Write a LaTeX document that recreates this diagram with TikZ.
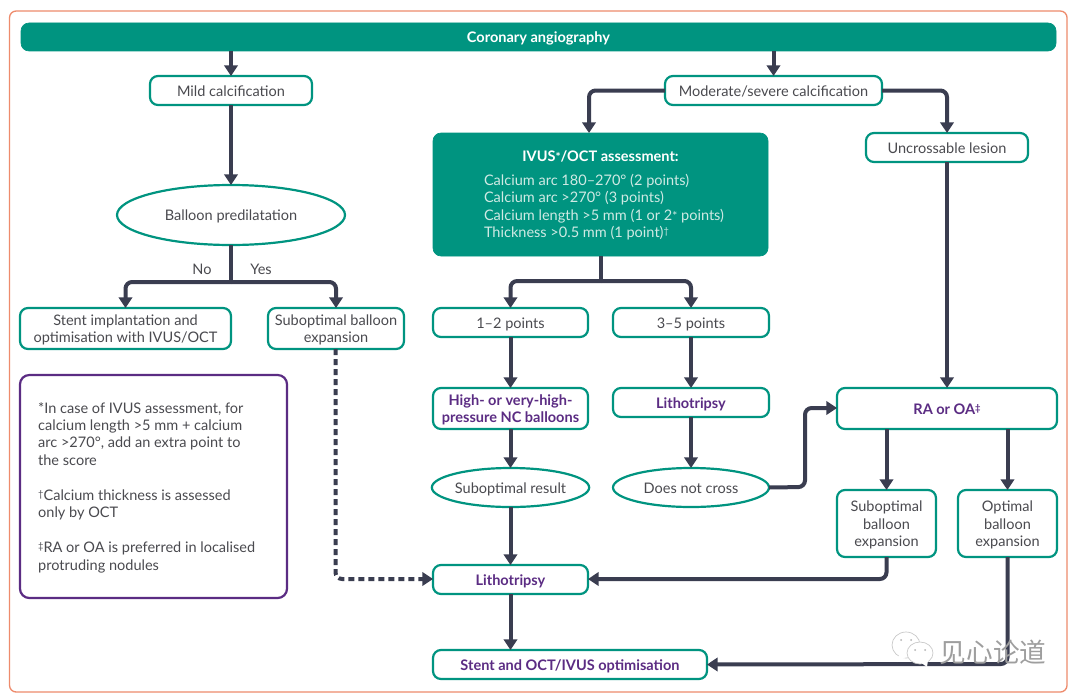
\documentclass[tikz,border=0pt]{standalone}
\usepackage{fontspec}
\setmainfont{Lato}
\newfontfamily\cjkwm{Noto Sans CJK SC}
\usetikzlibrary{arrows.meta,shapes.geometric}
\definecolor{teal}{HTML}{009480}
\definecolor{arrowc}{HTML}{3A3D50}
\definecolor{purp}{HTML}{5B2C83}
\definecolor{txt}{HTML}{4A4A4F}
\definecolor{outer}{HTML}{EE8B6C}
\definecolor{lines}{HTML}{CFEAE4}
\newcommand{\bx}[7]{\node[#6,minimum width={(#3-#1)*0.75pt},minimum height={(#4-#2)*0.75pt}] (#5) at ({(#1+#3)/2},{(#2+#4)/2}) {\raisebox{0pt}[\dimexpr\height+3.4pt\relax][\depth]{\begin{tabular}{@{}c@{}}#7\end{tabular}}};}
\newcommand{\bxn}[7]{\node[#6,minimum width={(#3-#1)*0.75pt},minimum height={(#4-#2)*0.75pt}] (#5) at ({(#1+#3)/2},{(#2+#4)/2}) {#7};}
\newcommand{\supr}[1]{\raisebox{0.42ex}{\fontsize{7}{7}\selectfont #1}}
\newcommand{\smast}{{\fontsize{9}{9}\selectfont *}}
\tikzset{
  base/.style={inner sep=0pt,outer sep=0pt,text=txt,font=\fontsize{10.9}{13.1}\selectfont},
  tbox/.style={base,rectangle,draw=teal,line width=1.65pt,rounded corners=6pt,fill=white},
  tell/.style={base,ellipse,draw=teal,line width=1.65pt,fill=white},
  solidbox/.style={base,rectangle,draw=teal,fill=teal,line width=0.5pt,rounded corners=6pt,text=white},
  noteb/.style={base,rectangle,draw=purp,line width=1.65pt,rounded corners=7pt,fill=white},
  strong/.style={font=\fontsize{10.9}{13.1}\selectfont\bfseries,text=purp},
  conn/.style={draw=arrowc,line width=3pt,rounded corners=5pt},
  arr/.style={conn,-{Triangle[length=8pt,width=10pt]}},
  darr/.style={arr,dash pattern=on 4.5pt off 3pt},
  lab/.style={base}
}
\begin{document}
\begin{tikzpicture}[x=0.75pt,y=-0.75pt]
\useasboundingbox (0,0) rectangle (1080,699);
\fill[white] (0,0) rectangle (1080,699);
\draw[outer,line width=1pt,rounded corners=5pt] (9.5,11) rectangle (1067,692);

% named bend points
\coordinate (kb) at (231,282);
\coordinate (ki) at (601,281);
\coordinate (kivus) at (589,133);
\coordinate (kd1) at (805,487);
\coordinate (kd2) at (805,408);
\coordinate (ks) at (335.5,579);
\coordinate (kss) at (886.5,579);
\coordinate (kos) at (1007.5,664);

\bx{21}{23}{1056}{51}{top}{solidbox}{\bfseries Coronary angiography}
\bx{150}{76}{312}{105}{mild}{tbox}{Mild calcification}
\bx{117}{185}{345}{245}{pred}{tell}{Balloon predilatation}
\bx{20}{308}{231}{349}{stent}{tbox}{Stent implantation and\\optimisation with IVUS/OCT}
\bx{268}{308}{404}{349}{sub}{tbox}{Suboptimal balloon\\expansion}
\bxn{20}{375}{287}{598}{note}{noteb}{\raisebox{0pt}[\dimexpr\height+1.5pt\relax][\depth]{\parbox{173pt}{\raggedright *In case of IVUS assessment, for\\calcium length >5 mm + calcium\\arc >270°, add an extra point to\\the score\\[13.1pt]\supr{†}Calcium thickness is assessed\\only by OCT\\[13.1pt]\supr{‡}RA or OA is preferred in localised\\protruding nodules}}}
\bx{665}{76}{882}{105}{mod}{tbox}{Moderate/severe calcification}
\bxn{433}{133}{768}{256}{ivus}{solidbox}{}
\node[base,text=white,font=\fontsize{10.9}{13.1}\selectfont\bfseries] (ivust) at (600.5,156) {IVUS\smast/OCT assessment:};
\node[base,text=lines,anchor=west,align=left] (ivusl) at (484,207) {Calcium arc 180–270° (2 points)\\Calcium arc >270° (3 points)\\Calcium length >5 mm (1 or 2\smast{} points)\\Thickness >0.5 mm (1 point)\supr{†}};
\bx{866}{133}{1028}{162}{unc}{tbox}{Uncrossable lesion}
\bx{433}{308}{588}{337}{ot}{tbox}{1–2 points}
\bx{613}{308}{769}{337}{tf}{tbox}{3–5 points}
\bx{433}{388}{588}{429}{high}{tbox,strong}{High- or very-high-\\pressure NC balloons}
\bx{613}{388}{769}{417}{lithr}{tbox,strong}{Lithotripsy}
\bx{433}{468}{588}{507}{sres}{tell}{Suboptimal result}
\bx{613}{468}{769}{507}{dnc}{tell}{Does not cross}
\bx{837}{388}{1057}{429}{ra}{tbox,strong}{RA or OA\supr{‡}}
\bx{837}{490}{936}{557}{sub2}{tbox}{Suboptimal\\balloon\\expansion}
\bx{958}{490}{1057}{557}{opt}{tbox}{Optimal\\balloon\\expansion}
\bx{433}{565}{588}{594}{lith}{tbox,strong}{Lithotripsy}
\bx{433}{650}{707}{679}{final}{tbox,strong}{Stent and OCT/IVUS optimisation}

\node[lab] (no) at (202,269) {No};
\node[lab] (yes) at (261,269) {Yes};

% connectors
\draw[arr] (mild.north |- top.south) -- (mild.north);
\draw[arr] (mod.north |- top.south) -- (mod.north);
\draw[arr] (mild.south) -- (pred.north);
\draw[conn] (pred.south) -- (kb);
\draw[arr] (kb) -| (stent.north);
\draw[arr] (kb) -| (sub.north);
\draw[arr] (mod.west) -| (kivus);
\draw[arr] (mod.east) -| (unc.north);
\draw[arr] (unc.south) -- (ra.north -| unc.south);
\draw[conn] (ki |- ivus.south) -- (ki);
\draw[arr] (ki) -| (ot.north);
\draw[arr] (ki) -| (tf.north);
\draw[arr] (ot.south) -- (high.north);
\draw[arr] (tf.south) -- (lithr.north);
\draw[arr] (high.south) -- (sres.north);
\draw[arr] (lithr.south) -- (dnc.north);
\draw[arr] (sres.south) -- (lith.north);
\draw[arr] (lith.south) -- (final.north -| lith.south);
\draw[arr] (dnc.east) -- (kd1) -- (kd2) -- (ra.west |- kd2);
\draw[arr] (sub2.north |- ra.south) -- (sub2.north);
\draw[arr] (opt.north |- ra.south) -- (opt.north);
\draw[arr] (sub2.south) -- (kss) -- (lith.east |- kss);
\draw[arr] (opt.south) -- (kos) -- (final.east);
\draw[darr] (ks |- sub.south) -- (ks) -- (lith.west |- ks);

% watermark
\fill[white,draw=black!22,line width=0.5pt] (906,645) ellipse (14 and 13);
\fill[white] (899,655) -- (897,662) -- (906,657) -- cycle;
\fill[white,draw=black!22,line width=0.5pt] (920,653) ellipse (13 and 11);
\fill[white] (920,662) -- (927,667) -- (928,660) -- cycle;
\fill[black!30] (901,640) circle (1) (911,640) circle (1) (915,650) circle (1) (925,650) circle (1);
\node[inner sep=0pt,text=black!38,font=\cjkwm\fontsize{20}{22}\selectfont] (wm) at (993,652) {见心论道};
\end{tikzpicture}
\end{document}
